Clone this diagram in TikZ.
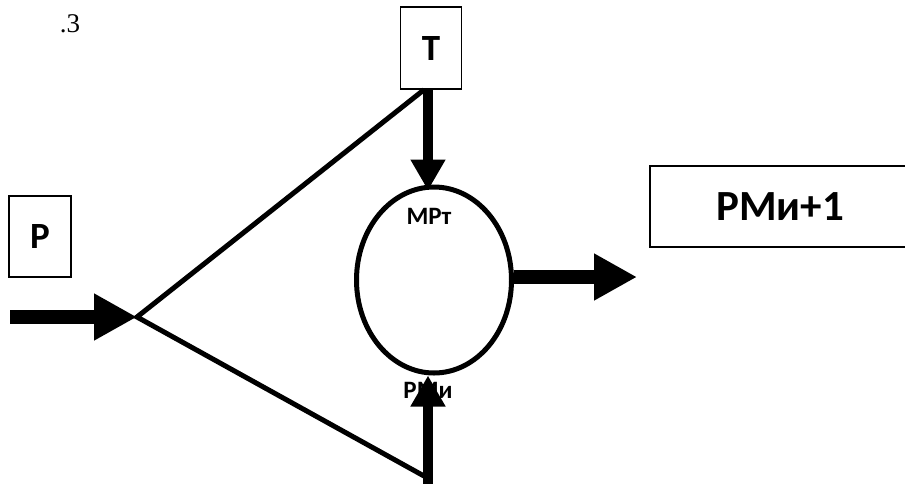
\documentclass[tikz,border=0pt]{standalone}
\usepackage{fontspec}
\setmainfont{Liberation Serif}
\newfontfamily\calib{Carlito}
\usepackage{tikz}
\usetikzlibrary{positioning,arrows.meta,shapes.geometric,calc}

\begin{document}
\begin{tikzpicture}[
    x=1pt, y=-1pt,
    base/.style={font={\calib\bfseries},inner sep=0pt,align=center},
    box/.style={base,draw,line width=1.5pt,rectangle},
    lbl/.style={base,font={\calib\bfseries\fontsize{25}{25}\selectfont}},
    edge/.style={line width=5pt},
    flow/.style={line width=14pt,-{Triangle[length=43pt,width=44pt]}},
    feed/.style={line width=10.5pt,-{Triangle[length=31pt,width=33pt]}},
]
    \useasboundingbox (0,0) rectangle (905,483);

    \node[base,font={\fontsize{27}{27}\selectfont}] (num) at (70,24) {.3};

    \node[box,minimum width=61pt,minimum height=82pt,font={\calib\bfseries\fontsize{37}{37}\selectfont}] (tbox) at (431,48) {Т};
    \node[box,minimum width=62pt,minimum height=81pt,font={\calib\bfseries\fontsize{37}{37}\selectfont}] (pbox) at (40,236.5) {Р};
    \node[box,minimum width=260pt,minimum height=81pt,font={\calib\bfseries\fontsize{43}{43}\selectfont}] (rmbox) at (780,206.5) {РМи+1};

    \node[draw,ellipse,line width=5pt,minimum width=155pt,minimum height=186pt,inner sep=0pt] (ell) at (434,280) {};

    \node[lbl] (lblt) at (429,216) {МРт};
    \node[lbl] (lblr) at (428,390) {РМи};

    \coordinate (apex) at (137,317);
    \coordinate (bot)  at (424,476);
    \coordinate (inp)  at (10,317);
    \coordinate (outp) at (637,277);
    \coordinate (tin)  at ($(tbox.south)+(-3,0)$);
    \coordinate (upin) at (428,495);

    % triangle
    \draw[edge,line join=miter] ($(tbox.south)+(-7,0)$) -- (apex) -- (bot);

    % arrows
    \draw[flow] (inp) -- (apex);
    \draw[feed,shorten >=-6pt] (tin) -- (tin |- ell.north);
    \draw[feed] (upin) -- (upin |- ell.south);
    \draw[flow] (ell.east |- outp) -- (outp);

\end{tikzpicture}
\end{document}
